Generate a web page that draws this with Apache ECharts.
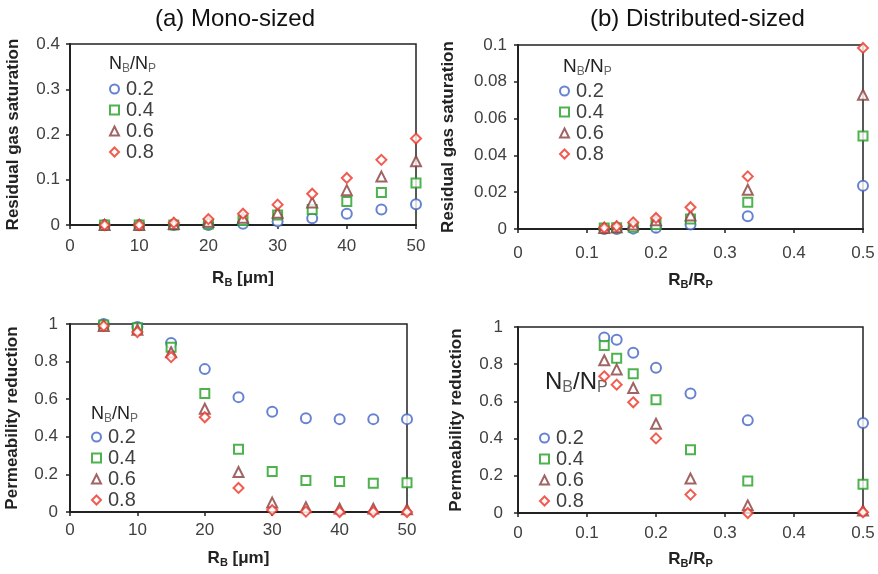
<!DOCTYPE html>
<html>
<head>
<meta charset="utf-8">
<script src="https://cdn.jsdelivr.net/npm/echarts@6/dist/echarts.min.js"></script>
<style>html,body{margin:0;padding:0;background:#fff;}#c{width:878px;height:574px;}</style>
</head>
<body>
<div id="c"></div>
<script>
const seriesNames = ['0.2', '0.4', '0.6', '0.8'];
const xMono = [5, 10, 15, 20, 25, 30, 35, 40, 45, 50];
const xDist = [0.125, 0.143, 0.167, 0.2, 0.25, 0.333, 0.5];

const satMono02 = [0, 0, 0, 0, 0.003, 0.008, 0.015, 0.025, 0.034, 0.046];
const satMono04 = [0, 0, 0, 0.002, 0.01, 0.022, 0.034, 0.052, 0.072, 0.093];
const satMono06 = [0, 0, 0.002, 0.007, 0.016, 0.027, 0.05, 0.077, 0.107, 0.141];
const satMono08 = [0, 0, 0.005, 0.013, 0.025, 0.045, 0.069, 0.104, 0.144, 0.191];

const satDist02 = [0, 0, 0.0002, 0.0007, 0.0025, 0.0069, 0.0235];
const satDist04 = [0.0005, 0.0007, 0.001, 0.0024, 0.0054, 0.0145, 0.0506];
const satDist06 = [0.0005, 0.001, 0.0024, 0.0047, 0.0074, 0.0213, 0.073];
const satDist08 = [0.0007, 0.0015, 0.0036, 0.006, 0.0118, 0.0286, 0.0984];

const permMono02 = [1.0, 0.984, 0.899, 0.76, 0.611, 0.533, 0.499, 0.494, 0.494, 0.494];
const permMono04 = [0.995, 0.98, 0.876, 0.63, 0.334, 0.215, 0.167, 0.162, 0.153, 0.156];
const permMono06 = [0.99, 0.97, 0.85, 0.549, 0.213, 0.05, 0.025, 0.018, 0.018, 0.014];
const permMono08 = [0.99, 0.957, 0.824, 0.504, 0.128, 0.01, 0.002, 0, 0, 0];

const permDist02 = [0.943, 0.932, 0.862, 0.781, 0.643, 0.498, 0.484];
const permDist04 = [0.901, 0.832, 0.749, 0.609, 0.34, 0.172, 0.154];
const permDist06 = [0.821, 0.772, 0.672, 0.48, 0.185, 0.041, 0.014];
const permDist08 = [0.735, 0.69, 0.595, 0.401, 0.099, 0, 0.004];

const colors = ['#4163c6', '#22a022', '#8a3d3d', '#ee3325'];
const symbols = ['emptyCircle', 'emptyRect', 'emptyTriangle', 'emptyDiamond'];
const symSizes = [10, 9, 10, 10];

const panels = [
  { x: xMono, ys: [satMono02, satMono04, satMono06, satMono08] },
  { x: xDist, ys: [satDist02, satDist04, satDist06, satDist08] },
  { x: xMono, ys: [permMono02, permMono04, permMono06, permMono08] },
  { x: xDist, ys: [permDist02, permDist04, permDist06, permDist08] }
];

const FONT = 'Liberation Sans, Arial, sans-serif';
const AX = '#222';
const LBL = '#404040';

const grids = [
  { left: 70, top: 44, width: 346, height: 181 },
  { left: 518, top: 45, width: 345, height: 184 },
  { left: 70, top: 324, width: 337, height: 188 },
  { left: 518, top: 327, width: 345, height: 186 }
].map(g => Object.assign({ show: true, borderColor: AX, borderWidth: 1.5, backgroundColor: 'transparent' }, g));

const nameRich = {
  n: { fontSize: 17, fontWeight: 'bold', fontFamily: FONT, color: '#222', lineHeight: 20 },
  s: { fontSize: 11, fontWeight: 'bold', fontFamily: FONT, color: '#222', lineHeight: 12, verticalAlign: 'bottom' }
};

function xAxis(idx, min, max, interval, name, gap, margin) {
  return {
    gridIndex: idx, type: 'value', min, max, interval,
    name, nameLocation: 'middle', nameGap: gap,
    nameTextStyle: { rich: nameRich },
    axisLine: { show: true, onZero: false, lineStyle: { color: AX, width: 2 } },
    axisTick: { show: true, length: 4, lineStyle: { color: AX, width: 1.5 } },
    axisLabel: { fontSize: 17, color: LBL, fontFamily: FONT, margin },
    splitLine: { show: false }
  };
}
function yAxis(idx, min, max, interval, name, gap, margin) {
  return {
    gridIndex: idx, type: 'value', min, max, interval,
    name, nameLocation: 'middle', nameGap: gap,
    nameTextStyle: { fontSize: 17, fontWeight: 'bold', fontFamily: FONT, color: '#222' },
    axisLine: { show: true, onZero: false, lineStyle: { color: AX, width: 2 } },
    axisTick: { show: true, length: 4, lineStyle: { color: AX, width: 1.5 } },
    axisLabel: { fontSize: 17, color: LBL, fontFamily: FONT, margin },
    splitLine: { show: false }
  };
}

const xAxes = [
  xAxis(0, 0, 50, 10, '{n|R}{s|B}{n| [μm]}', 43, 13),
  xAxis(1, 0, 0.5, 0.1, '{n|R}{s|B}{n|/R}{s|P}', 41, 16),
  xAxis(2, 0, 50, 10, '{n|R}{s|B}{n| [μm]}', 36, 10),
  xAxis(3, 0, 0.5, 0.1, '{n|R}{s|B}{n|/R}{s|P}', 36, 12)
];
const yAxes = [
  yAxis(0, 0, 0.4, 0.1, 'Residual gas saturation', 48, 10),
  yAxis(1, 0, 0.1, 0.02, 'Residual gas saturation', 61, 11),
  yAxis(2, 0, 1, 0.2, 'Permeability reduction', 49, 12),
  yAxis(3, 0, 1, 0.2, 'Permeability reduction', 53, 15)
];

const series = [];
panels.forEach((p, pi) => {
  p.ys.forEach((ys, si) => {
    series.push({
      type: 'scatter', name: seriesNames[si],
      xAxisIndex: pi, yAxisIndex: pi,
      symbol: symbols[si], symbolSize: symSizes[si],
      clip: false,
      itemStyle: { color: colors[si], borderColor: colors[si], borderWidth: 1.8 },
      data: p.x.map((x, i) => [x, ys[i]]),
      z: 2 + si
    });
  });
});

function legend(left, top) {
  return {
    data: seriesNames, orient: 'vertical', left, top, padding: 0,
    itemWidth: 9, itemHeight: 9, itemGap: 1, selectedMode: false,
    textStyle: { fontSize: 20, color: LBL, fontFamily: FONT, padding: [0, 0, 0, 2] }
  };
}
const legends = [legend(109, 79), legend(559, 81), legend(91, 427), legend(539, 428)];

function legTitle(x, y, fs) {
  const sub = Math.round(fs * 0.65);
  return {
    type: 'text', left: x, top: y,
    style: {
      text: '{n|N}{s|B}{n|/N}{s|P}',
      rich: {
        n: { fontSize: fs, fontFamily: FONT, fill: '#222', lineHeight: fs + 4 },
        s: { fontSize: sub, fontFamily: FONT, fill: '#666', lineHeight: sub, verticalAlign: 'bottom' }
      }
    }
  };
}

const graphic = [
  { type: 'text', left: 155, top: 7, style: { text: '(a) Mono-sized', fontSize: 24, fontFamily: FONT, fill: '#111' } },
  { type: 'text', left: 590, top: 7, style: { text: '(b) Distributed-sized', fontSize: 24, fontFamily: FONT, fill: '#111' } },
  legTitle(109, 55, 18),
  legTitle(563, 57, 19),
  legTitle(91, 405, 18),
  legTitle(545, 370, 24)
];

const chart = echarts.init(document.getElementById('c'), null, { renderer: 'canvas' });
chart.setOption({
  animation: false,
  backgroundColor: '#fff',
  grid: grids,
  xAxis: xAxes,
  yAxis: yAxes,
  legend: legends,
  graphic,
  series
});
</script>
</body>
</html>
